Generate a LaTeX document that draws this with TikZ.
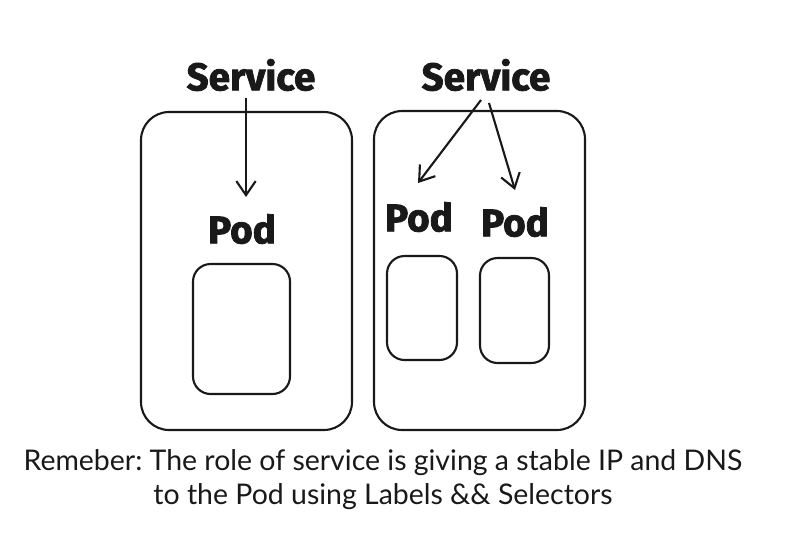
\documentclass[tikz,border=0pt]{standalone}
\usepackage{fontspec}
\usetikzlibrary{arrows.meta}
\newfontfamily\headfont{Fira Sans}[BoldFeatures={FakeBold=2}]
\newfontfamily\capfont{Lato}
\frenchspacing
\tikzset{>={Straight Barb[length=8pt,width=11pt]}}
\tikzset{
  box/.style={draw=black!90, line width=1.2pt, rounded corners=16pt},
  pod/.style={draw=black!90, line width=1.2pt, rounded corners=10pt},
  head/.style={font=\headfont\bfseries\fontsize{22}{24}\selectfont, text=black!90},
  link/.style={draw=black!90, line width=1.2pt, ->}
}

\begin{document}
\begin{tikzpicture}[x=0.02cm,y=-0.02cm]
        \useasboundingbox (0,0) rectangle (807,548);
        % outer boxes
        \draw[box] (141,112) rectangle (352,430);
        \draw[box] (374,111) rectangle (585,430);
        % pods
        \draw[pod] (193,264) rectangle (290,394);
        \draw[pod] (387,256) rectangle (457,360);
        \draw[pod] (480,258) rectangle (549,363);
        % labels
        \node[head] (svcL) at (251,75) {Service};
        \node[head] (svcR) at (486,75) {Service};
        \node[head] (podL) at (242,229) {Pod};
        \node[head] (podA) at (419,217) {Pod};
        \node[head] (podB) at (515,222) {Pod};
        % arrows
        \coordinate (tipL) at (246,197);
        \coordinate (tipA) at (418,183);
        \coordinate (tipB) at (515,190);
        \draw[link] (246,98) -- (tipL);
        \draw[link] (481,100) -- (tipA);
        \draw[link] (489,103) -- (tipB);
        % caption
        \node[font=\capfont\fontsize{16.2}{19.3}\selectfont, align=center, text=black!90] (note) at (383,480)
          {Remeber: The role of service is giving a stable IP and DNS\\to the Pod using Labels \&\& Selectors};
\end{tikzpicture}
\end{document}
